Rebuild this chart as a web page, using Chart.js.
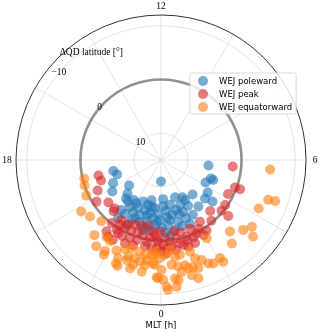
<!DOCTYPE html>
<html>
<head>
<meta charset="utf-8">
<script src="https://cdn.jsdelivr.net/npm/chart.js@4.4.0/dist/chart.umd.min.js"></script>
<style>
  html, body { margin: 0; padding: 0; background: #fff; }
  #wrap { width: 320px; height: 334px; }
</style>
</head>
<body>
<div id="wrap"><canvas id="c" width="320" height="334"></canvas></div>
<script>
// radial axis is reversed: +15 deg at the centre, -12 deg at the rim
const latCentre = 15;
const latRim = -12;
const latTicks = [10, 0, -10];
const mltTicks = [0, 6, 12, 18];
const mltGrid = [0, 2, 4, 6, 8, 10, 12, 14, 16, 18, 20, 22];

const seriesNames = ["WEJ poleward", "WEJ peak", "WEJ equatorward"];
const seriesColors = ["31,119,180", "214,39,40", "255,127,14"];

const polewardMlt = [5.56, 0.0, 4.65, 4.6, 4.21, 3.67, 2.83, 3.41, 3.25, 2.59, 1.99, 2.01,
  18.87, 19.21, 19.71, 20.57, 20.2, 21.0, 21.18, 21.73, 22.0, 22.44, 23.12, 21.56,
  21.42, 21.75, 21.77, 22.11, 22.29, 22.61, 22.82, 22.93, 23.22, 23.48, 23.14, 22.75,
  22.28, 22.16, 23.52, 23.79, 23.94, 0.17, 0.37, 0.75, 0.75, 1.11, 1.53, 1.53, 1.55,
  1.02, 0.41, 0.06, 23.65, 0.21, 0.45, 23.4, 23.12, 0.75, 2.03, 1.63, 0.2,
  22.39, 23.75, 0.57, 1.18, 2.07, 1.38, 23.28, 21.45, 23.04, 0.4, 23.05, 1.23];
const polewardLat = [6.1, 11.0, 5.1, 4.6, 5.7, 4.4, 6.3, 2.7, 4.1, 3.9, 7.0, 3.2,
  5.9, 6.4, 5.1, 7.4, 4.2, 6.2, 5.3, 6.0, 5.7, 6.6, 7.3, 1.6,
  3.1, 2.9, 4.5, 4.0, 5.1, 4.0, 5.2, 6.3, 4.9, 4.1, 3.3, 2.8,
  2.6, 1.3, 6.0, 4.9, 3.8, 6.4, 5.5, 6.5, 4.6, 5.3, 5.9, 4.5, 3.2,
  3.0, 2.8, 2.3, 2.8, 1.4, 0.8, 1.8, 2.0, 1.7, 5.1, 1.9, 7.7,
  3.2, 3.4, 3.7, 2.1, 6.3, 7.6, 6.1, 5.1, 1.5, 4.3, 4.4, 4.4];

const peakMlt = [18.93, 19.26, 19.71, 20.19, 20.6, 21.08, 21.15, 21.77, 21.51, 21.84,
  22.14, 22.47, 22.82, 23.1, 23.46, 23.79, 23.35, 21.69, 21.93, 21.85, 22.18, 22.55,
  22.88, 23.26, 22.19, 22.55, 22.89, 23.58, 23.3, 23.61, 22.44,
  5.65, 4.64, 4.65, 4.21, 3.66, 3.34, 2.93, 3.35, 2.64, 1.9, 1.53, 2.19, 1.97, 1.72, 1.53,
  0.99, 1.23, 0.75, 0.42, 0.24, 0.46, 0.99, 1.18, 0.22, 23.95, 23.69, 0.66, 1.2, 0.85,
  23.88, 23.81, 0.02, 0.11,
  21.97, 22.79, 0.2, 0.63, 1.49, 21.47, 2.15];
const peakLat = [3.0, 3.2, 1.9, 0.7, 2.4, 2.5, 2.0, 1.6, -1.7, -0.4,
  0.7, 0.8, 0.9, 0.6, 0.4, 0.1, -0.5, -2.3, -2.4, 0.7, 1.6, 2.0,
  2.2, 2.5, -0.9, -0.6, -0.5, 1.5, -1.3, -1.5, -1.9,
  1.6, 0.3, -0.7, 1.0, 0.4, 0.3, 1.8, -1.3, 0.3, 0.4, 1.1, -0.6, -1.1, -0.2, -0.6,
  1.1, 0.0, 0.1, -0.3, -1.5, -1.2, -1.4, -1.9, -2.4, 1.7, 1.0, 1.5, -0.7, -0.9,
  -0.2, -1.5, -2.0, -0.8,
  -0.8, -1.7, 0.5, -2.0, -1.7, 0.1, 1.4];

const equatorwardMlt = [18.9, 19.23, 19.7, 20.19, 20.57, 21.05, 21.23, 21.66, 21.85, 21.54,
  21.89, 21.93, 22.25, 22.42, 22.53, 22.77, 22.43, 22.51, 22.75, 23.01, 22.74, 23.01,
  22.94, 23.14, 23.36, 23.22, 23.46, 23.63, 23.71, 23.42, 23.35, 23.86, 23.75, 23.96,
  0.16, 0.38, 0.55, 0.75, 0.39, 0.61, 0.86, 0.94, 1.12, 1.17, 1.27, 1.47, 1.64, 1.79,
  2.07, 2.1, 1.27, 0.45, 0.55, 23.91, 0.07, 0.17, 0.47, 0.21, 1.17, 23.78, 0.02, 0.7,
  1.0, 2.02, 23.76, 2.93, 3.31, 3.58, 2.69, 3.35, 5.67, 4.64, 4.68, 4.24];
const equatorwardLat = [0.3, 0.0, -0.4, -2.7, -1.9, -0.9, -3.7, -2.6, -2.8, -5.1,
  -4.9, -5.6, -3.8, -4.9, -2.9, -2.3, -6.0, -6.3, -4.0, -3.9, -4.7, -5.2,
  -6.0, -2.5, -2.9, -4.3, -3.8, -2.8, -4.3, -4.8, -6.1, -6.9, -2.1, -3.3,
  -2.7, -1.8, -3.2, -3.0, -4.6, -5.1, -5.1, -5.8, -5.8, -2.9, -4.4, -5.1, -6.2, -6.6,
  -6.3, -7.2, -6.3, -7.2, -7.6, -7.0, -7.3, -8.6, -8.8, -9.2, -8.1, -4.6, -5.5, -6.2,
  -7.2, -1.9, -2.7, -3.5, -5.1, -6.0, -5.4, -7.3, -5.4, -6.3, -7.6, -5.3];

// MLT 0 at the bottom, 6 on the right, 12 at the top
function toXY(mlt, lat) {
  const a = mlt / 24 * 2 * Math.PI;
  const rho = latCentre - lat;
  return { x: rho * Math.sin(a), y: -rho * Math.cos(a) };
}

function makeSet(i, mlts, lats, order) {
  return {
    label: seriesNames[i],
    data: mlts.map((m, k) => toXY(m, lats[k])),
    backgroundColor: "rgba(" + seriesColors[i] + ",0.6)",
    borderWidth: 0,
    pointRadius: 5,
    pointHoverRadius: 5,
    order: order,
  };
}

const span = latCentre - latRim;

const polarGrid = {
  id: "polarGrid",
  beforeDatasetsDraw(chart) {
    const ctx = chart.ctx;
    const xs = chart.scales.x, ys = chart.scales.y;
    const cx = xs.getPixelForValue(0), cy = ys.getPixelForValue(0);
    const rad = (lat) => xs.getPixelForValue(latCentre - lat) - cx;
    const R = rad(latRim);
    ctx.save();
    ctx.strokeStyle = "#dcdcdc";
    ctx.lineWidth = 0.8;
    mltGrid.forEach((m) => {
      const a = m / 24 * 2 * Math.PI;
      ctx.beginPath();
      ctx.moveTo(cx, cy);
      ctx.lineTo(cx + R * Math.sin(a), cy + R * Math.cos(a));
      ctx.stroke();
    });
    latTicks.forEach((lat) => {
      ctx.beginPath();
      ctx.arc(cx, cy, rad(lat), 0, 2 * Math.PI);
      ctx.stroke();
    });
    // reference circle at 0 deg
    ctx.strokeStyle = "rgba(128,128,128,0.85)";
    ctx.lineWidth = 2.6;
    ctx.beginPath();
    ctx.arc(cx, cy, rad(0), 0, 2 * Math.PI);
    ctx.stroke();
    // rim
    ctx.strokeStyle = "#333";
    ctx.lineWidth = 1;
    ctx.beginPath();
    ctx.arc(cx, cy, R, 0, 2 * Math.PI);
    ctx.stroke();
    ctx.restore();
  },
  afterDraw(chart) {
    const ctx = chart.ctx;
    const xs = chart.scales.x, ys = chart.scales.y;
    const cx = xs.getPixelForValue(0), cy = ys.getPixelForValue(0);
    const rad = (lat) => xs.getPixelForValue(latCentre - lat) - cx;
    const R = rad(latRim);
    const pt = (m, r) => {
      const a = m / 24 * 2 * Math.PI;
      return [cx + r * Math.sin(a), cy + r * Math.cos(a)];
    };
    ctx.save();
    ctx.fillStyle = "#000";
    ctx.textAlign = "center";
    ctx.textBaseline = "middle";
    ctx.font = '9.5px "Liberation Serif"';
    mltTicks.forEach((m) => {
      const p = pt(m, R + 9);
      ctx.fillText(String(m), p[0], p[1]);
    });
    latTicks.forEach((lat) => {
      const p = pt(15.3, rad(lat));
      const txt = lat < 0 ? "\u2212" + Math.abs(lat) : String(lat);
      ctx.fillText(txt, p[0], p[1]);
    });
    const tp = pt(14.2, 128);
    ctx.fillText("\u0394QD latitude [\u00b0]", tp[0], tp[1]);

    ctx.font = '8.5px "DejaVu Sans"';
    ctx.fillText("MLT [h]", cx, 326);

    // legend
    const lx = 190, ly = 73, rowH = 13;
    let maxW = 0;
    seriesNames.forEach((n) => { maxW = Math.max(maxW, ctx.measureText(n).width); });
    const bw = 29 + maxW + 4, bh = 41;
    ctx.fillStyle = "rgba(255,255,255,0.8)";
    ctx.strokeStyle = "#d0d0d0";
    ctx.lineWidth = 0.8;
    ctx.beginPath();
    ctx.roundRect(lx, ly, bw, bh, 2);
    ctx.fill();
    ctx.stroke();
    ctx.textAlign = "left";
    seriesNames.forEach((n, i) => {
      const y = ly + 8 + i * rowH;
      ctx.fillStyle = "rgba(" + seriesColors[i] + ",0.6)";
      ctx.beginPath();
      ctx.arc(lx + 13, y, 5, 0, 2 * Math.PI);
      ctx.fill();
      ctx.fillStyle = "#000";
      ctx.fillText(n, lx + 29, y + 0.5);
    });
    ctx.restore();
  },
};

new Chart(document.getElementById("c"), {
  type: "scatter",
  data: {
    datasets: [
      makeSet(0, polewardMlt, polewardLat, 2),
      makeSet(1, peakMlt, peakLat, 1),
      makeSet(2, equatorwardMlt, equatorwardLat, 0),
    ],
  },
  options: {
    responsive: false,
    devicePixelRatio: 1,
    animation: false,
    layout: { padding: { left: 16, top: 15, right: 14, bottom: 29 } },
    scales: {
      x: { display: false, min: -span, max: span },
      y: { display: false, min: -span, max: span },
    },
    plugins: { legend: { display: false }, tooltip: { enabled: false } },
  },
  plugins: [polarGrid],
});
</script>
</body>
</html>
